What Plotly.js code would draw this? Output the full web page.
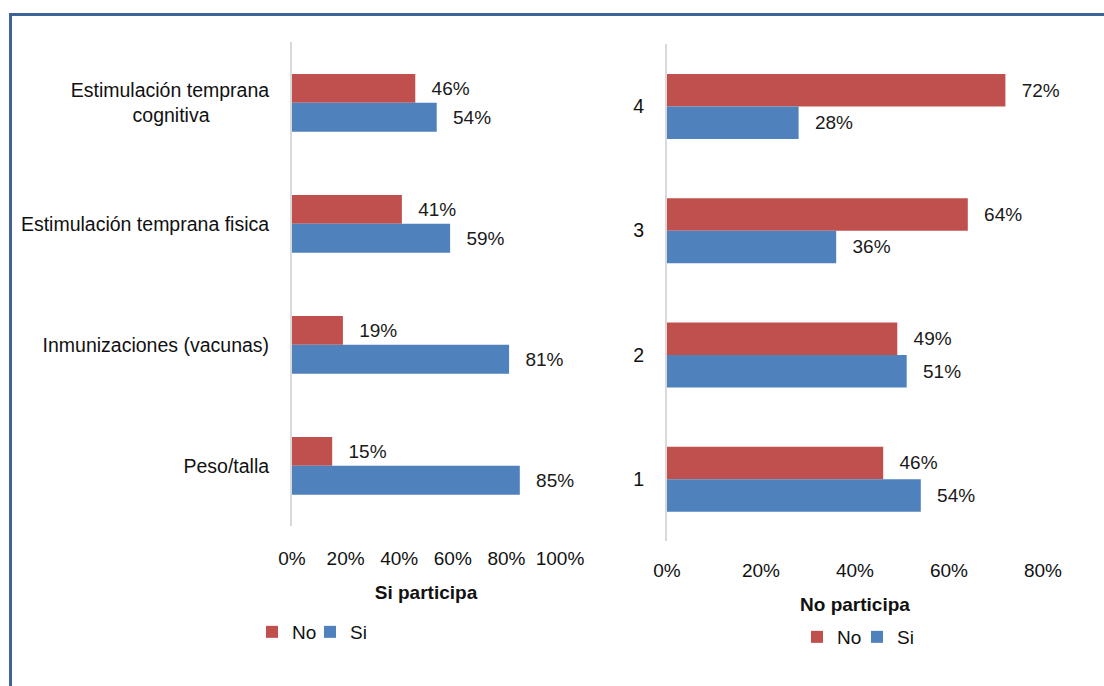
<!DOCTYPE html>
<html>
<head>
<meta charset="utf-8">
<script src="https://cdn.plot.ly/plotly-3.0.1.min.js"></script>
<style>
  html, body { margin: 0; padding: 0; background: #ffffff; }
  #wrap { position: relative; width: 1104px; height: 686px; overflow: hidden; }
  #frame { position: absolute; left: 9px; top: 13px; width: 1200px; height: 800px;
           border-top: 3px solid #3E6396; border-left: 3px solid #3E6396; pointer-events: none; }
  #chart { position: absolute; left: 0; top: 0; width: 1104px; height: 686px; }
</style>
</head>
<body>
<div id="wrap">
  <div id="chart"></div>
  <div id="frame"></div>
</div>
<script>
// ---- data ----
const leftCategories = [
  "Estimulación temprana<br>cognitiva\u00a0\u00a0\u00a0\u00a0\u00a0\u00a0\u00a0\u00a0\u00a0\u00a0\u00a0",
  "Estimulación temprana fisica",
  "Inmunizaciones (vacunas)",
  "Peso/talla"
];
const leftNo = [0.46, 0.41, 0.19, 0.15];
const leftSi = [0.54, 0.59, 0.81, 0.85];

const rightCategories = ["4", "3", "2", "1"];
const rightNo = [0.72, 0.64, 0.49, 0.46];
const rightSi = [0.28, 0.36, 0.51, 0.54];

const leftTicks = [0, 0.2, 0.4, 0.6, 0.8, 1.0];
const rightTicks = [0, 0.2, 0.4, 0.6, 0.8];

const leftTitle = "Si participa";
const rightTitle = "No participa";
const seriesNames = ["No", "Si"];

// ---- style ----
const RED = "#C0504D";
const BLUE = "#4F81BD";
const FONT = "Liberation Sans, Arial, sans-serif";
const FS = 19;
const labelTpl = "\u2002\u2009%{x:.0%}";

function barTrace(x, y, name, color, xa, ya, legend, w, first) {
  return {
    type: "bar", orientation: "h", x: x, y: y, name: name,
    marker: { color: color, line: { width: 0 } },
    xaxis: xa, yaxis: ya, legend: legend,
    width: w, offset: first ? -w : 0,
    texttemplate: labelTpl, textposition: "outside",
    textfont: { family: FONT, size: FS, color: "#1a1a1a" },
    constraintext: "none", cliponaxis: false,
    hoverinfo: "x+y+name"
  };
}

const WL = 0.2385, WR = 0.2615;
const data = [
  barTrace(leftNo, leftCategories, seriesNames[0], RED, "x", "y", "legend", WL, true),
  barTrace(leftSi, leftCategories, seriesNames[1], BLUE, "x", "y", "legend", WL, false),
  barTrace(rightNo, rightCategories, seriesNames[0], RED, "x2", "y2", "legend2", WR, true),
  barTrace(rightSi, rightCategories, seriesNames[1], BLUE, "x2", "y2", "legend2", WR, false)
];

const W = 1104, H = 686;
const axisFont = { family: FONT, size: FS, color: "#111111" };
const yFont = { family: FONT, size: 19.5, color: "#111111" };

const layout = {
  width: W, height: H,
  margin: { l: 0, r: 0, t: 0, b: 0 },
  paper_bgcolor: "#ffffff", plot_bgcolor: "rgba(0,0,0,0)",
  barmode: "overlay",
  font: { family: FONT, size: FS, color: "#111111" },
  xaxis: {
    domain: [292 / W, 560 / W], anchor: "y",
    range: [0, 1], tickvals: leftTicks, tickformat: ".0%",
    showgrid: false, zeroline: false, showline: false, ticks: "",
    tickfont: axisFont, ticklabelstandoff: 19,
    title: { text: "<b>" + leftTitle + "</b>", font: { family: FONT, size: FS, color: "#111111" }, standoff: 17 },
    automargin: false, fixedrange: true
  },
  yaxis: {
    domain: [1 - 526.3 / H, 1 - 42.3 / H], anchor: "x",
    type: "category", autorange: "reversed",
    showgrid: false, zeroline: false, showline: true, linecolor: "#D9D9D9", linewidth: 2,
    ticks: "", tickfont: yFont, ticklabelstandoff: 17,
    automargin: false, fixedrange: true
  },
  xaxis2: {
    domain: [667 / W, 1043 / W], anchor: "y2",
    range: [0, 0.8], tickvals: rightTicks, tickformat: ".0%",
    showgrid: false, zeroline: false, showline: false, ticks: "",
    tickfont: axisFont, ticklabelstandoff: 16,
    title: { text: "<b>" + rightTitle + "</b>", font: { family: FONT, size: FS, color: "#111111" }, standoff: 17 },
    automargin: false, fixedrange: true
  },
  yaxis2: {
    domain: [1 - 541.3 / H, 1 - 44.3 / H], anchor: "x2",
    type: "category", autorange: "reversed",
    showgrid: false, zeroline: false, showline: true, linecolor: "#D9D9D9", linewidth: 2,
    ticks: "", tickfont: yFont, ticklabelstandoff: 17,
    automargin: false, fixedrange: true
  },
  legend: {
    orientation: "h", x: 252 / W, xanchor: "left", y: 1 - 632 / H, yanchor: "middle",
    font: { family: FONT, size: FS, color: "#111111" }, bgcolor: "rgba(0,0,0,0)",
    itemwidth: 30, traceorder: "normal", entrywidth: 13, entrywidthmode: "pixels"
  },
  legend2: {
    orientation: "h", x: 797 / W, xanchor: "left", y: 1 - 637 / H, yanchor: "middle",
    font: { family: FONT, size: FS, color: "#111111" }, bgcolor: "rgba(0,0,0,0)",
    itemwidth: 30, traceorder: "normal", entrywidth: 15, entrywidthmode: "pixels"
  },
  showlegend: true
};

Plotly.newPlot("chart", data, layout, { displayModeBar: false, staticPlot: true });
</script>
</body>
</html>
